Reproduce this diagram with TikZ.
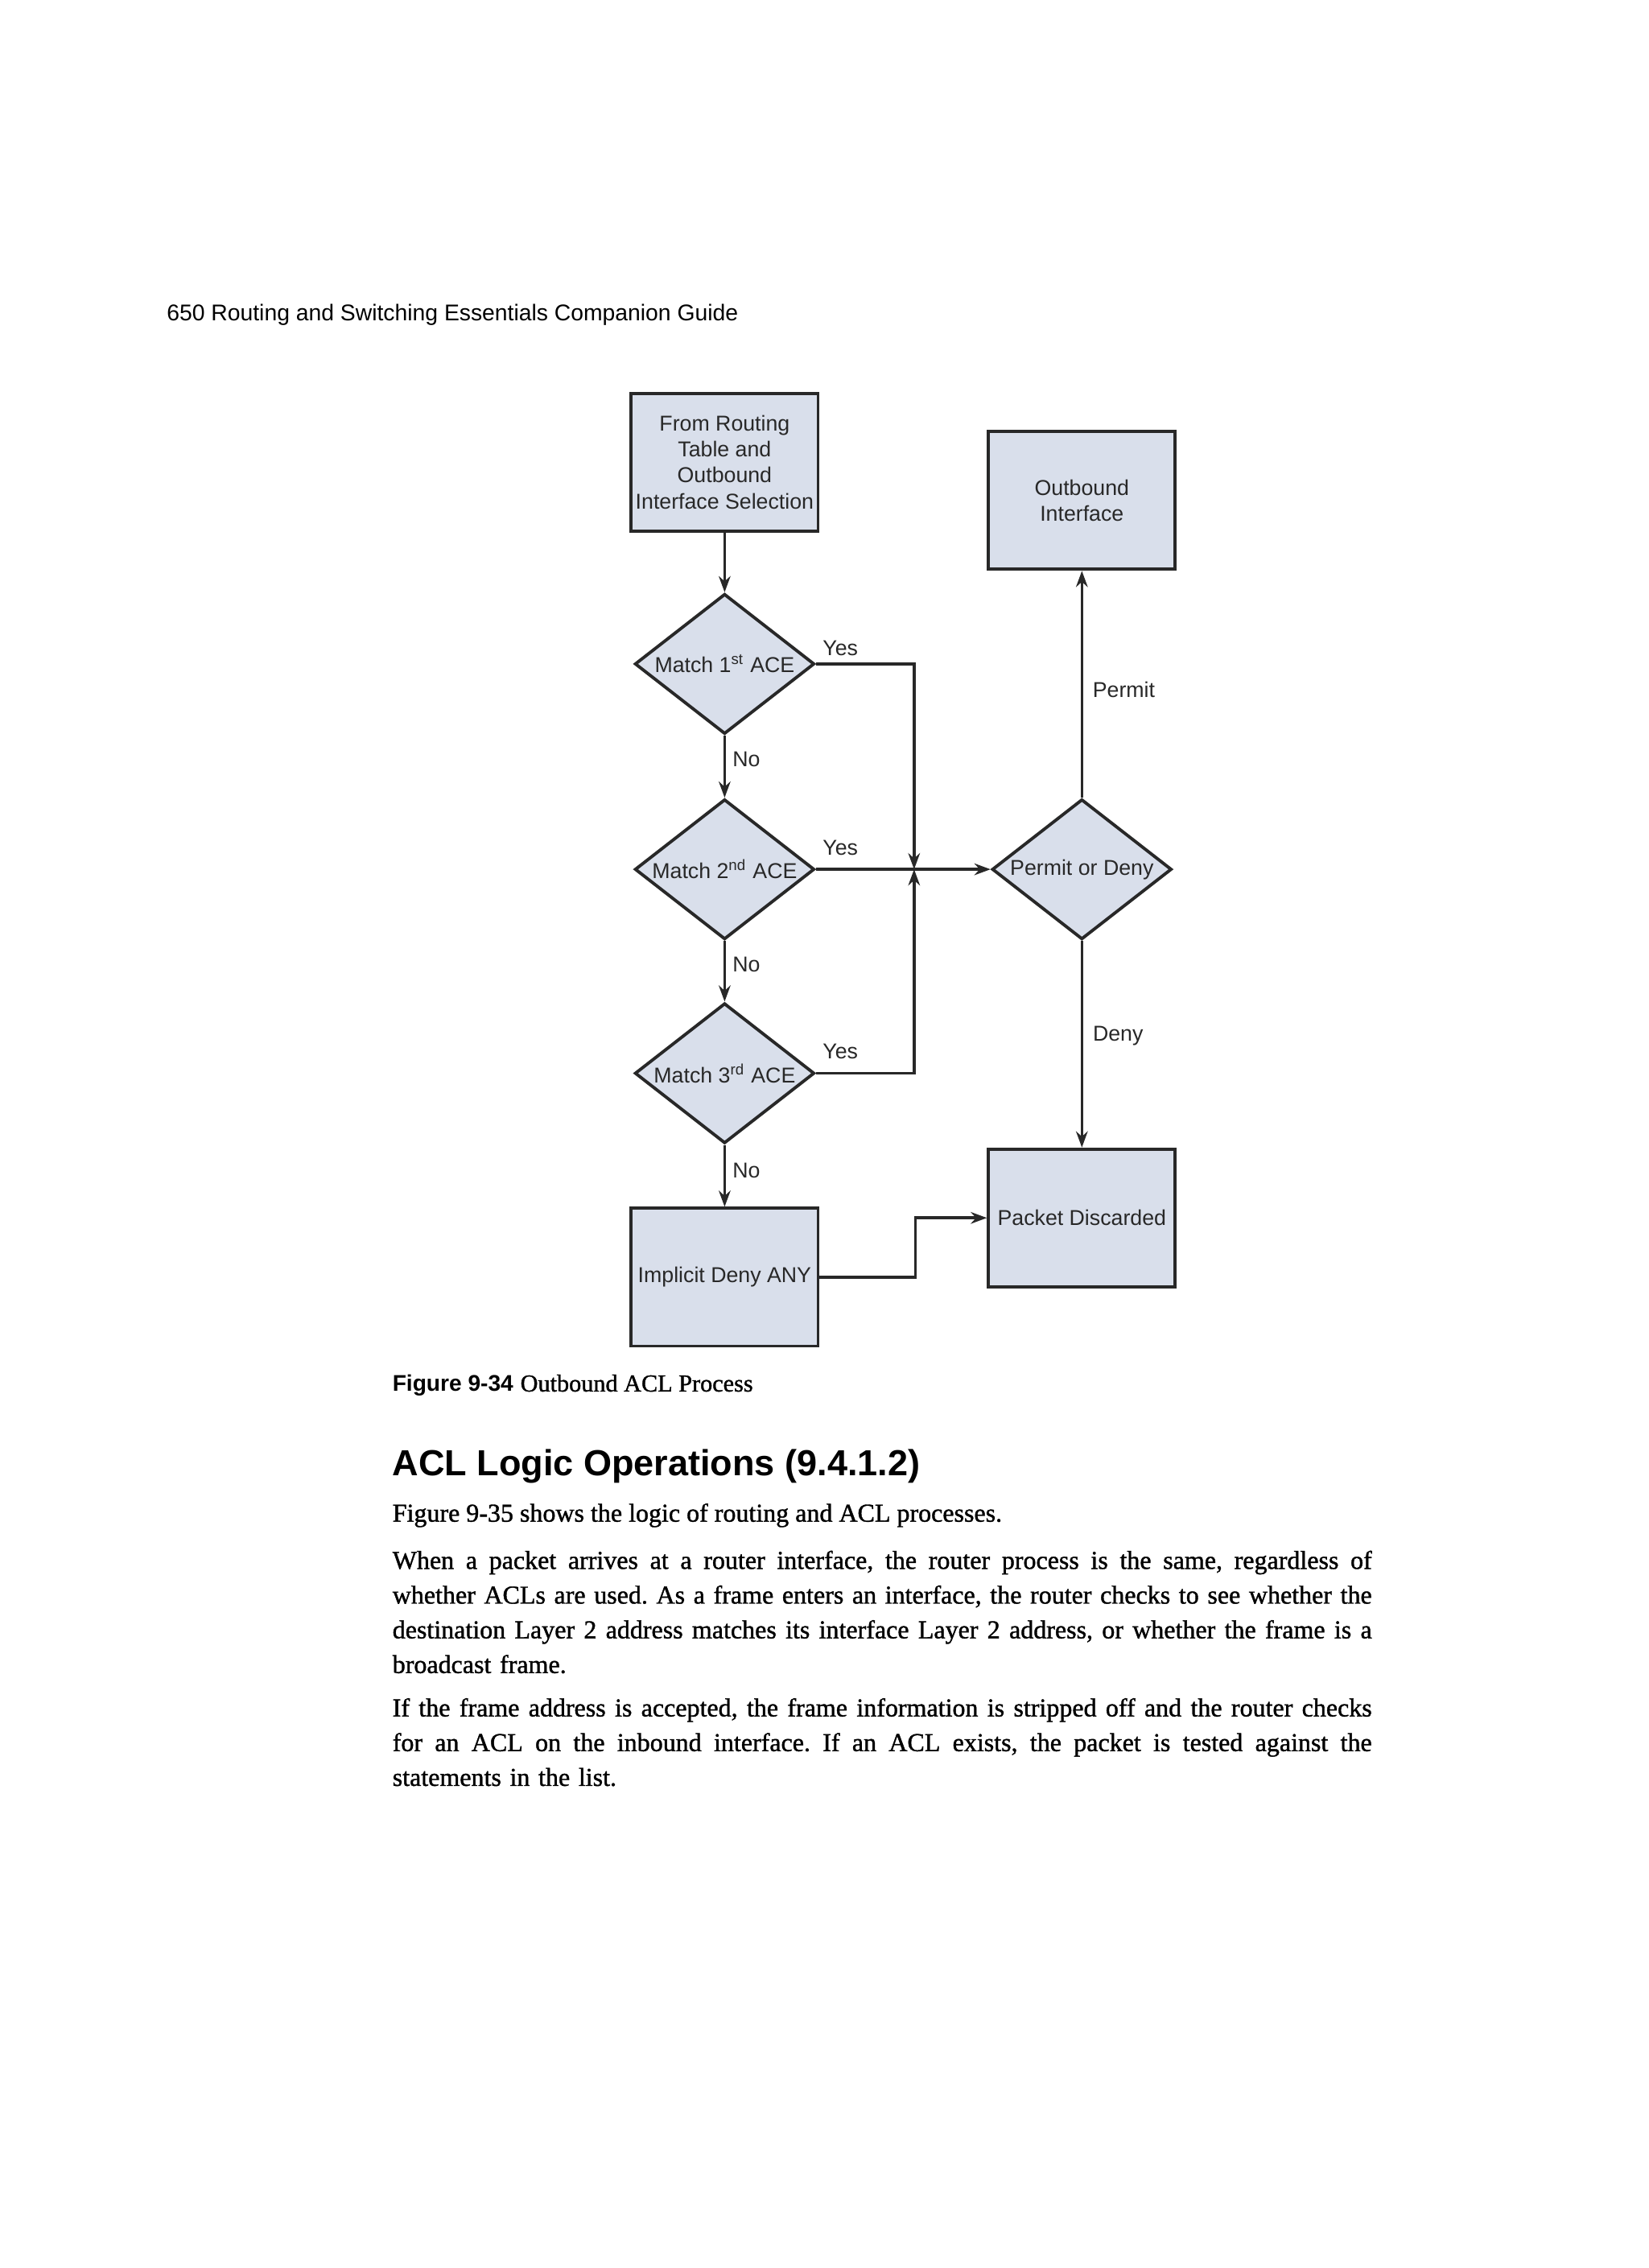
\documentclass[tikz,border=0pt]{standalone}
\usepackage{fontspec}
\setmainfont{Liberation Serif}
\setsansfont{Liberation Sans}
\newfontfamily\bodyface[FakeBold=1.2]{Liberation Serif}
\usetikzlibrary{shapes.geometric,arrows.meta}
\definecolor{boxfill}{RGB}{217,223,235}
\definecolor{ink}{RGB}{40,40,40}
\newcommand{\chartfont}{\sffamily\fontsize{7.6}{9.2}\selectfont}
\newcommand{\bodyfont}{\bodyface\fontsize{9.1}{12.27}\selectfont\frenchspacing}
\newcommand{\jline}[1]{{\spaceskip=0.25em plus 1em minus 0.12em\xspaceskip=\spaceskip\makebox[12.16cm][s]{#1}}}
\tikzset{
  box/.style={draw=ink, line width=1.1pt, fill=boxfill, minimum width=2.32cm, minimum height=1.71cm, inner sep=0pt, align=center, font=\chartfont, text=ink},
  dec/.style={draw=ink, line width=1.1pt, fill=boxfill, shape=diamond, minimum width=2.23cm, minimum height=1.74cm, inner sep=0pt},
  flow/.style={draw=ink, line width=1pt, -{Stealth[length=2mm,width=1.45mm]}},
  tag/.style={font=\chartfont, inner sep=0pt, text=ink},
  para/.style={anchor=north west, inner sep=0pt, text width=12.16cm, align=left, font=\bodyfont},
}
\begin{document}
\begin{tikzpicture}[x=0.017965cm, y=-0.017965cm]
    \path [fill=white, use as bounding box] (0,0) rectangle (1140,1568);

    \node [box] (0) at (501, 319.5) {From Routing\\Table and\\Outbound\\Interface Selection};
	\node [box] (1) at (748, 346) {Outbound\\Interface};
	\node [dec, label={[tag]center:Match 1\textsuperscript{st} ACE}] (2) at (501, 459) {};
	\node [dec, label={[tag]center:Match 2\textsuperscript{nd} ACE}] (3) at (501, 601) {};
	\node [dec, label={[tag]center:Match 3\textsuperscript{rd} ACE}] (4) at (501, 742) {};
	\node [dec, label={[tag]center:Permit or Deny}] (5) at (748, 601) {};
	\node [box] (6) at (501, 883) {Implicit Deny ANY};
	\node [box] (7) at (748, 842) {Packet Discarded};
	\coordinate (8) at (632, 601);
	\coordinate (9) at (633, 862);
	\node [tag] (10) at (581, 448) {Yes};
	\node [tag] (11) at (581, 586) {Yes};
	\node [tag] (12) at (581, 727) {Yes};
	\node [tag] (13) at (516, 525) {No};
	\node [tag] (14) at (516, 667) {No};
	\node [tag] (15) at (516, 809) {No};
	\node [tag] (16) at (777, 477) {Permit};
	\node [tag] (17) at (773, 716) {Deny};
	% edges
	\draw [flow] (0) to (2);
	\draw [flow] (2) to (3);
	\draw [flow] (3) to (4);
	\draw [flow] (4) to (6);
	\draw [flow] (2.east) -| (8);
	\draw [flow] (4.east) -| (8);
	\draw [flow] (3.east) to (5.west);
	\draw [flow] (5) to (1);
	\draw [flow] (5) to (7);
	\draw [flow] (6.east) -| (9) |- (7.west);
	% page text
	\node [anchor=base west, inner sep=0pt, font=\sffamily\fontsize{8.05}{10}\selectfont] (20) at (115, 222) {650 Routing and Switching Essentials Companion Guide};
	\node [anchor=base west, inner sep=0pt] (21) at (271, 962) {{\sffamily\bfseries\fontsize{8}{10}\selectfont Figure 9-34} {\bodyface\fontsize{8.6}{10}\selectfont Outbound ACL Process}};
	\node [anchor=base west, inner sep=0pt, font=\sffamily\bfseries\fontsize{12.8}{15}\selectfont] (22) at (271, 1020) {ACL Logic Operations (9.4.1.2)};
	\node [anchor=base west, inner sep=0pt, font=\bodyfont] (23) at (271, 1052) {Figure 9-35 shows the logic of routing and ACL processes.};
	\node [para] (24) at (271, 1071.7) {\jline{When a packet arrives at a router interface, the router process is the same, regardless of}\\
	  \jline{whether ACLs are used. As a frame enters an interface, the router checks to see whether the}\\
	  \jline{destination Layer 2 address matches its interface Layer 2 address, or whether the frame is a}\\
	  broadcast frame.};
	\node [para] (25) at (271, 1173.7) {\jline{If the frame address is accepted, the frame information is stripped off and the router checks}\\
	  \jline{for an ACL on the inbound interface. If an ACL exists, the packet is tested against the}\\
	  statements in the list.};
\end{tikzpicture}
\end{document}
